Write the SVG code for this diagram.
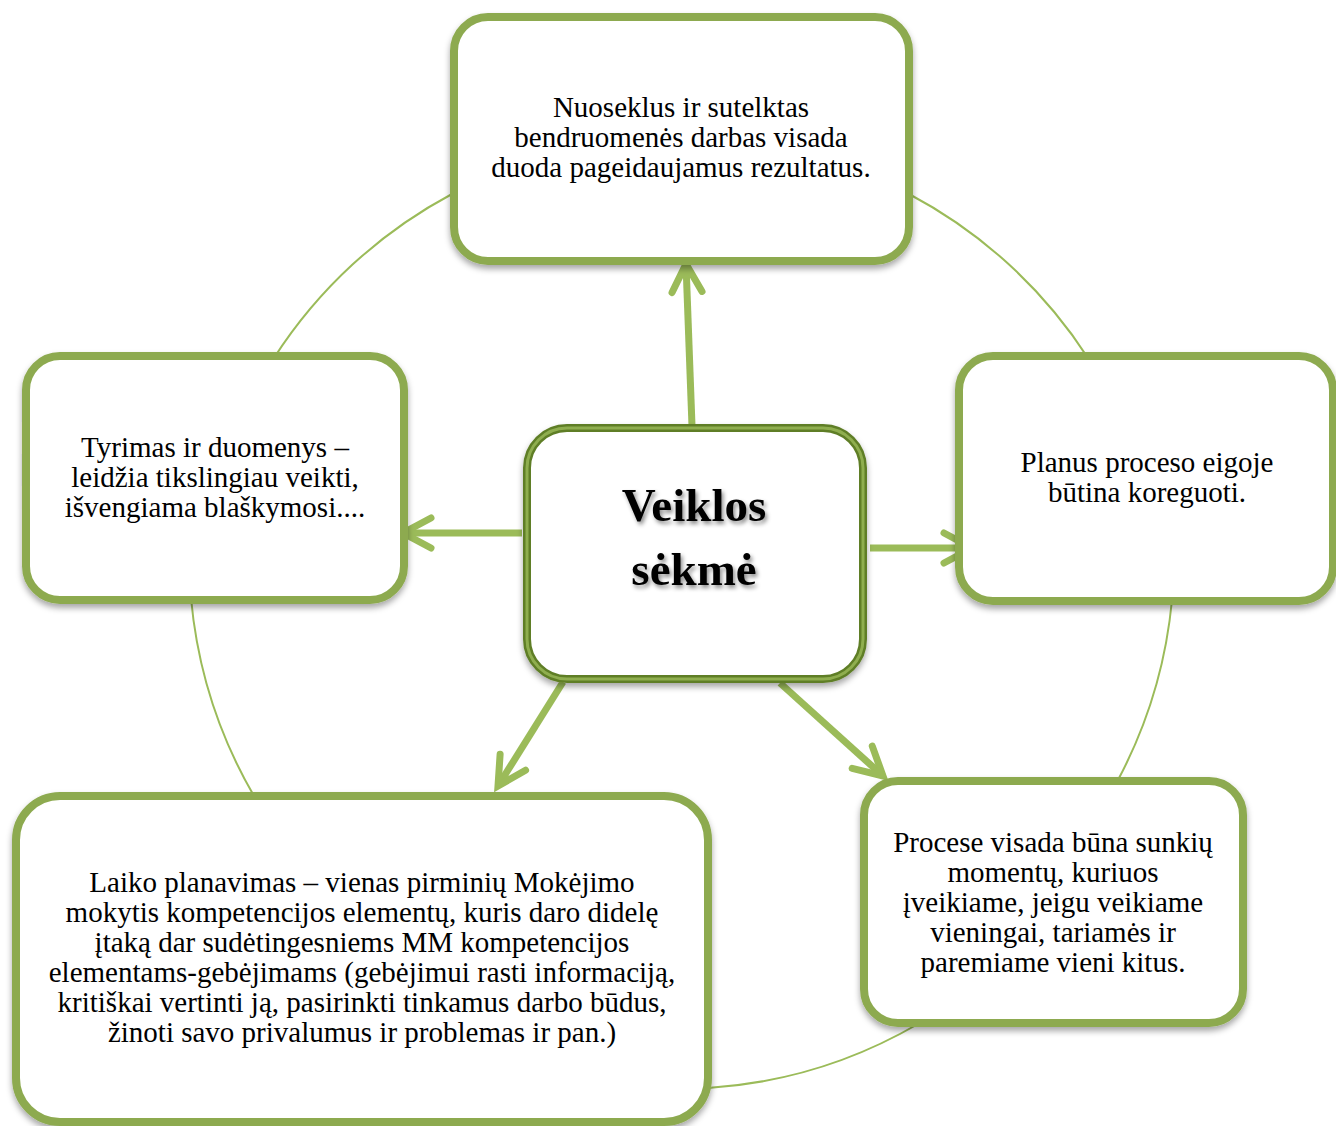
<svg xmlns="http://www.w3.org/2000/svg" width="1336" height="1126" viewBox="0 0 1336 1126">
  <style>
    .node { fill: #ffffff; stroke: #8DAA50; stroke-width: 8; filter: url(#shadow); }
    .txt { font-family: "Liberation Serif", "Times New Roman", serif; font-size: 29px; fill: #000000; text-anchor: middle; }
    .title { font-family: "Liberation Serif", "Times New Roman", serif; font-size: 47px; font-weight: bold; fill: #000000; text-anchor: middle; filter: url(#textShadow); }
    .ring { fill: none; stroke: #9BBB59; stroke-width: 2; }
    .arrow { fill: none; stroke: #9BBB59; stroke-width: 7; marker-end: url(#chevron); }
  </style>
  <defs>
    <filter id="shadow" x="-10%" y="-10%" width="120%" height="125%">
      <feDropShadow dx="0" dy="4" stdDeviation="3" flood-color="#000000" flood-opacity="0.35"/>
    </filter>
    <filter id="textShadow" x="-10%" y="-20%" width="120%" height="150%">
      <feDropShadow dx="2" dy="3" stdDeviation="2" flood-color="#000000" flood-opacity="0.45"/>
    </filter>
    <marker id="chevron" markerUnits="userSpaceOnUse" markerWidth="80" markerHeight="80" viewBox="-40 -40 80 80" refX="0" refY="0" orient="auto" overflow="visible">
      <path d="M-28,-15 L0,0 L-28,15" fill="none" stroke="#9BBB59" stroke-width="7" stroke-linecap="round" stroke-linejoin="miter"/>
    </marker>
  </defs>

  <rect x="0" y="0" width="1336" height="1126" fill="#ffffff"/>

  <!-- cycle ring segments between the outer nodes -->
  <g id="connectors">
    <path class="ring" d="M 274 358 A 480 480 0 0 1 452 194"/>
    <path class="ring" d="M 909 194 A 480 480 0 0 1 1088 358"/>
    <path class="ring" d="M 1172 600 A 480 480 0 0 1 1118 780"/>
    <path class="ring" d="M 918 1024 A 480 480 0 0 1 708 1088"/>
    <path class="ring" d="M 254 796 A 480 480 0 0 1 191 598"/>

    <!-- arrows from the centre outwards -->
    <path class="arrow" d="M 692 426 L 686 264"/>
    <path class="arrow" d="M 522 533 L 403 533"/>
    <path class="arrow" d="M 870 548 L 972 548"/>
    <path class="arrow" d="M 563 682 L 498 786"/>
    <path class="arrow" d="M 780 683 L 883 776"/>
  </g>

  <g id="node-top">
    <rect class="node" x="454" y="17" width="455" height="244" rx="34"/>
    <text class="txt" x="681" y="117">Nuoseklus ir sutelktas</text>
    <text class="txt" x="681" y="147">bendruomenės darbas visada</text>
    <text class="txt" x="681" y="177">duoda pageidaujamus rezultatus.</text>
  </g>

  <g id="node-left">
    <rect class="node" x="26" y="356" width="378" height="244" rx="34"/>
    <text class="txt" x="215" y="457">Tyrimas ir duomenys –</text>
    <text class="txt" x="215" y="487">leidžia tikslingiau veikti,</text>
    <text class="txt" x="215" y="517">išvengiama blaškymosi....</text>
  </g>

  <g id="node-right">
    <rect class="node" x="959" y="356" width="374" height="245" rx="34"/>
    <text class="txt" x="1147" y="472">Planus proceso eigoje</text>
    <text class="txt" x="1147" y="502">būtina koreguoti.</text>
  </g>

  <g id="node-bottom-right">
    <rect class="node" x="864" y="781" width="379" height="242" rx="34"/>
    <text class="txt" x="1053" y="852">Procese visada būna sunkių</text>
    <text class="txt" x="1053" y="882">momentų, kuriuos</text>
    <text class="txt" x="1053" y="912">įveikiame, jeigu veikiame</text>
    <text class="txt" x="1053" y="942">vieningai, tariamės ir</text>
    <text class="txt" x="1053" y="972">paremiame vieni kitus.</text>
  </g>

  <g id="node-bottom-left">
    <rect class="node" x="16" y="796" width="692" height="326" rx="44"/>
    <text class="txt" x="362" y="892">Laiko planavimas – vienas pirminių Mokėjimo</text>
    <text class="txt" x="362" y="922">mokytis kompetencijos elementų, kuris daro didelę</text>
    <text class="txt" x="362" y="952">įtaką dar sudėtingesniems MM kompetencijos</text>
    <text class="txt" x="362" y="982">elementams-gebėjimams (gebėjimui rasti informaciją,</text>
    <text class="txt" x="362" y="1012">kritiškai vertinti ją, pasirinkti tinkamus darbo būdus,</text>
    <text class="txt" x="362" y="1042">žinoti savo privalumus ir problemas ir pan.)</text>
  </g>

  <g id="node-center">
    <rect x="527" y="428" width="336" height="251" rx="40" fill="#ffffff" stroke="#5F7E27" stroke-width="8" filter="url(#shadow)"/>
    <rect x="527" y="428" width="336" height="251" rx="40" fill="none" stroke="#8FAE4F" stroke-width="3"/>
    <text class="title" x="694" y="521">Veiklos</text>
    <text class="title" x="694" y="585">sėkmė</text>
  </g>
</svg>
